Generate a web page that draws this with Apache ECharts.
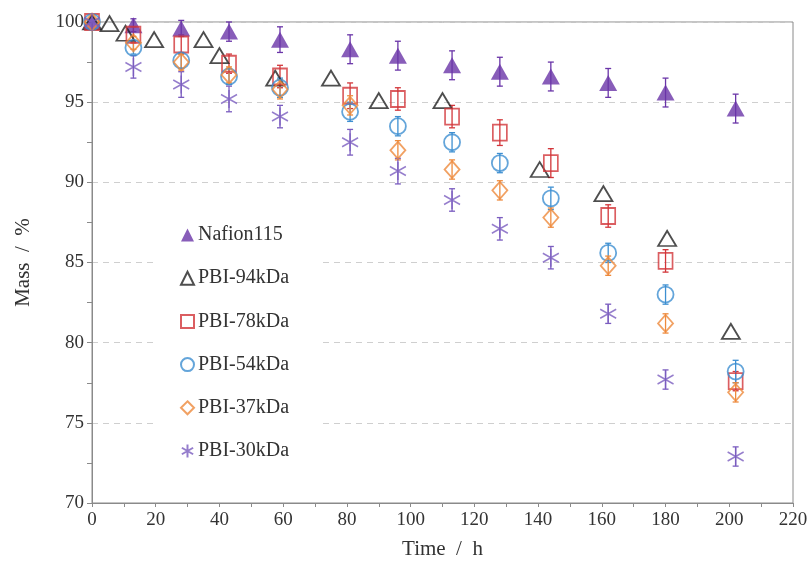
<!DOCTYPE html>
<html>
<head>
<meta charset="utf-8">
<script src="https://cdn.jsdelivr.net/npm/echarts@6/dist/echarts.min.js"></script>
<style>
  html, body { margin: 0; padding: 0; background: #fff; }
  #chart { width: 811px; height: 575px; }
</style>
</head>
<body>
<div id="chart"></div>
<script>
// sampling times shared by most samples (h)
const times = [0, 13, 28, 43, 59, 81, 96, 113, 128, 144, 162, 180, 202];

const nafion = [100, 99.8, 99.6, 99.4, 98.9, 98.3, 97.9, 97.3, 96.9, 96.6, 96.2, 95.6, 94.6];
const nafionErr = [0, 0.4, 0.5, 0.6, 0.8, 0.9, 0.9, 0.9, 0.9, 0.9, 0.9, 0.9, 0.9];

// PBI-94kDa was sampled at its own times
const times94 = [0, 5.5, 10.5, 19.5, 35, 40, 57.5, 75, 90, 110, 140.5, 160.5, 180.5, 200.5];
const pbi94 = [100, 99.9, 99.3, 98.9, 98.9, 97.9, 96.5, 96.5, 95.1, 95.1, 90.8, 89.3, 86.5, 80.7];

const pbi78 = [100, 99.2, 98.6, 97.4, 96.6, 95.4, 95.2, 94.1, 93.1, 91.2, 87.9, 85.1, 77.6];
const pbi78Err = [0, 0.5, 0.6, 0.6, 0.7, 0.8, 0.7, 0.7, 0.8, 0.9, 0.7, 0.7, 0.6];

const pbi54 = [100, 98.4, 97.6, 96.6, 95.9, 94.4, 93.5, 92.5, 91.2, 89.0, 85.6, 83.0, 78.2];
const pbi54Err = [0, 0.4, 0.5, 0.5, 0.6, 0.6, 0.6, 0.6, 0.6, 0.7, 0.6, 0.6, 0.7];

const pbi37 = [100, 98.7, 97.5, 96.7, 95.8, 94.8, 92.0, 90.8, 89.5, 87.8, 84.8, 81.2, 76.9];
const pbi37Err = [0, 0.4, 0.5, 0.5, 0.6, 0.6, 0.6, 0.6, 0.6, 0.6, 0.6, 0.6, 0.6];

const pbi30 = [100, 97.2, 96.1, 95.2, 94.1, 92.5, 90.7, 88.9, 87.1, 85.3, 81.8, 77.7, 72.9];
const pbi30Err = [0, 0.7, 0.8, 0.8, 0.7, 0.8, 0.8, 0.7, 0.7, 0.7, 0.6, 0.6, 0.6];

const yTicks = [70, 75, 80, 85, 90, 95, 100];
const xTicks = [0, 20, 40, 60, 80, 100, 120, 140, 160, 180, 200, 220];

const serif = 'Liberation Serif';
const asterisk = 'path://M10,0L10,20M1.3,5L18.7,15M1.3,15L18.7,5';

const zip = (xs, ys) => xs.map((x, i) => [x, ys[i]]);
const zipErr = (xs, ys, es) => xs.map((x, i) => [x, ys[i], es[i]]);

function errorBars (data, color) {
    return {
        type: 'custom',
        data: data,
        z: 3,
        silent: true,
        renderItem: function (params, api) {
            const x = api.value(0), y = api.value(1), e = api.value(2);
            if (!e) return;
            const top = api.coord([x, y + e]);
            const bot = api.coord([x, y - e]);
            const cap = 3;
            const style = { stroke: color, lineWidth: 1.3 };
            return {
                type: 'group',
                children: [
                    { type: 'line', shape: { x1: top[0], y1: top[1], x2: bot[0], y2: bot[1] }, style: style },
                    { type: 'line', shape: { x1: top[0] - cap, y1: top[1], x2: top[0] + cap, y2: top[1] }, style: style },
                    { type: 'line', shape: { x1: bot[0] - cap, y1: bot[1], x2: bot[0] + cap, y2: bot[1] }, style: style }
                ]
            };
        }
    };
}

function openSeries (name, data, symbol, size, color) {
    return {
        name: name,
        type: 'scatter',
        data: data,
        symbol: symbol,
        symbolSize: size,
        z: 4,
        itemStyle: { color: 'rgba(255,255,255,0)', borderColor: color, borderWidth: 1.8 }
    };
}

const cNafion = '#6a35a8';
const c94 = '#222222';
const c78 = '#d2363a';
const c54 = '#3d8fd1';
const c37 = '#ee8a3c';
const c30 = '#7a5cbf';

const chart = echarts.init(document.getElementById('chart'));

chart.setOption({
    animation: false,
    backgroundColor: '#fff',
    grid: {
        left: 92, right: 18, top: 22, bottom: 72,
        show: true, borderColor: '#8a8a8a', borderWidth: 1
    },
    legend: {
        data: ['Nafion115', 'PBI-94kDa', 'PBI-78kDa', 'PBI-54kDa', 'PBI-37kDa', 'PBI-30kDa'],
        orient: 'vertical',
        left: 153,
        top: 203,
        padding: [22, 33, 22, 27],
        backgroundColor: '#fff',
        itemWidth: 13,
        itemHeight: 13,
        itemGap: 23.2,
        textStyle: { fontFamily: serif, fontSize: 20, color: '#333', padding: [0, 0, 0, -1] }
    },
    xAxis: {
        type: 'value',
        min: 0, max: 220, interval: 20,
        name: 'Time  /  h',
        nameLocation: 'middle',
        nameGap: 36,
        nameTextStyle: { fontFamily: serif, fontSize: 21, color: '#333' },
        axisLine: { lineStyle: { color: '#8a8a8a' } },
        axisTick: { length: 4, lineStyle: { color: '#8a8a8a' } },
        minorTick: { show: true, splitNumber: 2, length: 4, lineStyle: { color: '#8a8a8a' } },
        axisLabel: {
            fontFamily: serif, fontSize: 19, color: '#333', margin: 8,
            formatter: v => xTicks.includes(v) ? String(v) : ''
        },
        splitLine: { show: false }
    },
    yAxis: {
        type: 'value',
        min: 70, max: 100, interval: 5,
        name: 'Mass  /  %',
        nameLocation: 'middle',
        nameGap: 58,
        nameTextStyle: { fontFamily: serif, fontSize: 21, color: '#333' },
        axisLine: { show: true, lineStyle: { color: '#8a8a8a' } },
        axisTick: { show: true, length: 5, lineStyle: { color: '#8a8a8a' } },
        minorTick: { show: true, splitNumber: 2, length: 5, lineStyle: { color: '#8a8a8a' } },
        axisLabel: {
            fontFamily: serif, fontSize: 19, color: '#333', margin: 8,
            formatter: v => yTicks.includes(v) ? String(v) : ''
        },
        splitLine: { show: true, lineStyle: { color: '#cfcfcf', type: [6, 5] } }
    },
    series: [
        errorBars(zipErr(times, nafion, nafionErr), cNafion),
        errorBars(zipErr(times, pbi78, pbi78Err), c78),
        errorBars(zipErr(times, pbi54, pbi54Err), c54),
        errorBars(zipErr(times, pbi37, pbi37Err), c37),
        errorBars(zipErr(times, pbi30, pbi30Err), c30),
        {
            name: 'Nafion115',
            type: 'scatter',
            data: zip(times, nafion),
            symbol: 'triangle',
            symbolSize: [18, 16],
            z: 4,
            itemStyle: { color: cNafion }
        },
        openSeries('PBI-94kDa', zip(times94, pbi94), 'triangle', [18, 15], c94),
        openSeries('PBI-78kDa', zip(times, pbi78), 'rect', [14, 16], c78),
        openSeries('PBI-54kDa', zip(times, pbi54), 'circle', 16, c54),
        openSeries('PBI-37kDa', zip(times, pbi37), 'diamond', [15, 17], c37),
        {
            name: 'PBI-30kDa',
            type: 'scatter',
            data: zip(times, pbi30),
            symbol: asterisk,
            symbolSize: [16, 18],
            z: 4,
            itemStyle: { color: 'rgba(255,255,255,0)', borderColor: c30, borderWidth: 1.6 }
        }
    ]
});
</script>
</body>
</html>
